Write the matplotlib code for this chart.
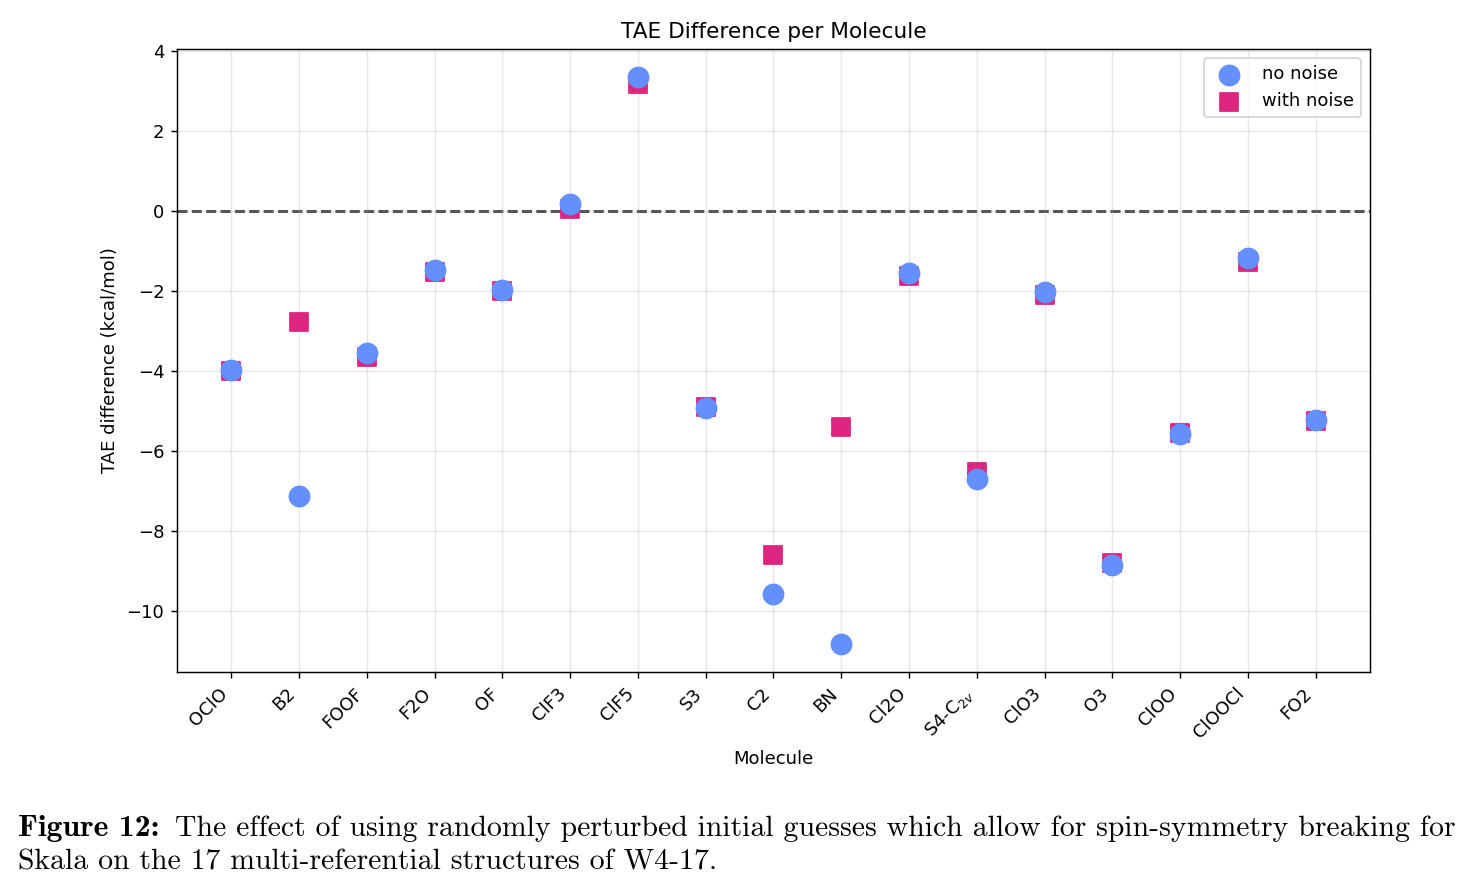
import matplotlib
matplotlib.use("Agg")
import matplotlib.pyplot as plt
import numpy as np

# TAE differences (kcal/mol)
molecules = ['OClO', 'B2', 'FOOF', 'F2O', 'OF', 'ClF3', 'ClF5', 'S3', 'C2', 'BN',
             'Cl2O', 'S4-C$_{2v}$', 'ClO3', 'O3', 'ClOO', 'ClOOCl', 'FO2']
no_noise = [-3.98, -7.12, -3.55, -1.48, -1.97, 0.17, 3.35, -4.93, -9.58, -10.83,
            -1.55, -6.70, -2.03, -8.85, -5.58, -1.18, -5.23]
with_noise = [-4.00, -2.78, -3.65, -1.52, -2.00, 0.05, 3.18, -4.90, -8.60, -5.40,
              -1.62, -6.53, -2.10, -8.80, -5.55, -1.28, -5.25]

dpi = 130
fig = plt.figure(figsize=(1472 / dpi, 894 / dpi), dpi=dpi)
ax = fig.add_axes([0.1202, 0.2483, 0.8105, 0.6969])

x = np.arange(len(molecules))
ax.scatter(x, no_noise, s=123, marker='o', color='#648FFF', label='no noise', zorder=3)
ax.scatter(x, with_noise, s=96, marker='s', color='#DC267F', label='with noise', zorder=2)
ax.axhline(0, color='black', linestyle='--', linewidth=1.5, alpha=0.8, zorder=1)

ax.set_xticks(x)
ax.set_xticklabels(molecules, rotation=45, ha='right')
ax.set_xlabel('Molecule')
ax.set_ylabel('TAE difference (kcal/mol)')
ax.set_title('TAE Difference per Molecule')
ax.grid(True, alpha=0.3)
ax.legend(loc='upper right')

# caption from the paper: bold label, then the sentence right after it
cap_size = 16.5
x0 = 18 / 1472
t1 = fig.text(x0, 1 - 836 / 894, 'Figure 12:', fontfamily='cmb10',
              fontsize=17.5, va='baseline')
fig.canvas.draw()
bb = t1.get_window_extent()
fig.text(bb.x1 / fig.bbox.width + 16 / 1472, 1 - 836 / 894,
         'The effect of using randomly perturbed initial guesses which allow for '
         'spin-symmetry breaking for',
         fontfamily='cmr10', fontsize=cap_size, va='baseline')
fig.text(x0, 1 - 870 / 894, 'Skala on the 17 multi-referential structures of W4-17.',
         fontfamily='cmr10', fontsize=cap_size, va='baseline')

fig.savefig('out.png', dpi=dpi)
